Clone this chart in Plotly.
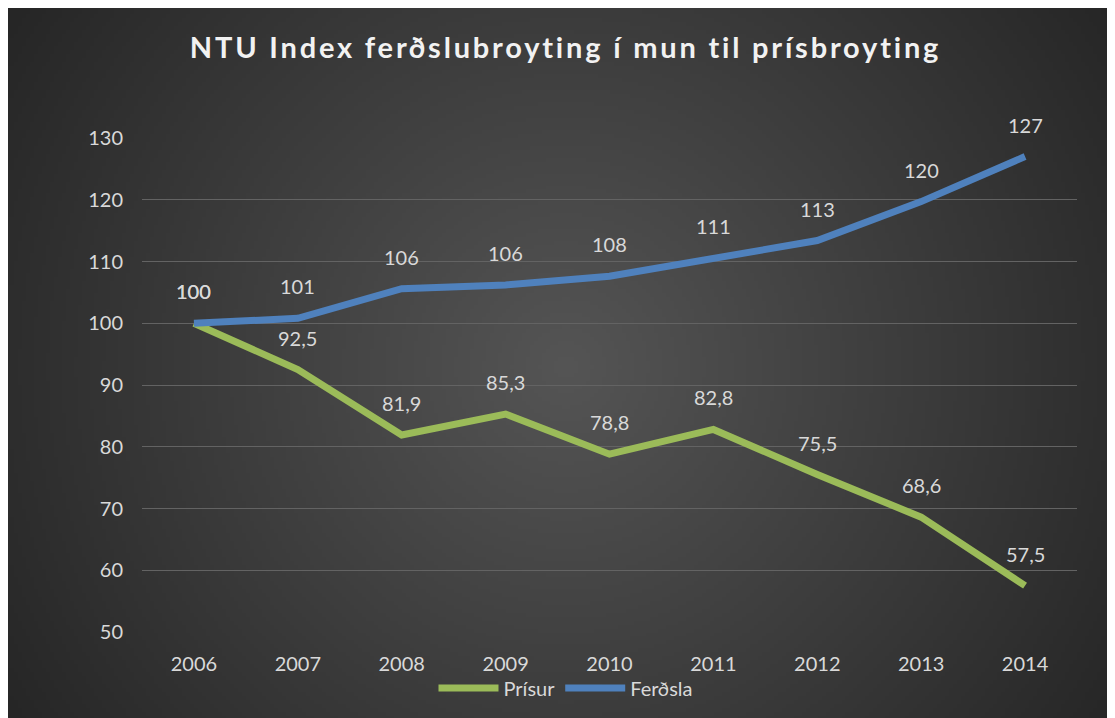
import zlib, struct, base64
import numpy as np
import plotly.graph_objects as go

years = ["2006", "2007", "2008", "2009", "2010", "2011", "2012", "2013", "2014"]
prisur = [100, 92.5, 81.9, 85.3, 78.8, 82.8, 75.5, 68.6, 57.5]
ferdsla = [100, 100.8, 105.6, 106.2, 107.6, 110.6, 113.4, 119.7, 127.0]
y_ticks = [50, 60, 70, 80, 90, 100, 110, 120, 130]

GREEN = "#9BBB59"
BLUE = "#4F81BD"
TXT = "#D9D9D9"
FONT = "Lato"

W, H = 1115, 718
ML, MR, MT, MB = 134, 46, 130, 94
PW, PH = W - ML - MR, H - MT - MB

# radial gradient background (Excel style) as a small PNG
def make_png(w, h):
    yy, xx = np.mgrid[0:h, 0:w].astype(float)
    cx, cy = (w - 1) / 2, (h - 1) / 2
    sx = W / w
    sy = H / h
    r = np.sqrt(((xx - cx) * sx) ** 2 + ((yy - cy) * sy) ** 2)
    r = r / r.max()
    c = (85 - r * 47).clip(0, 255).astype(np.uint8)
    raw = b"".join(b"\x00" + bytes(np.repeat(c[i], 3)) for i in range(h))
    def chunk(t, d):
        return struct.pack(">I", len(d)) + t + d + struct.pack(">I", zlib.crc32(t + d) & 0xffffffff)
    png = b"\x89PNG\r\n\x1a\n" + chunk(b"IHDR", struct.pack(">IIBBBBB", w, h, 8, 2, 0, 0, 0)) \
        + chunk(b"IDAT", zlib.compress(raw, 9)) + chunk(b"IEND", b"")
    return "data:image/png;base64," + base64.b64encode(png).decode()

bg = make_png(279, 180)
x0 = -ML / PW
x1 = (W - ML) / PW
y0 = 1 + MT / PH
y1 = -MB / PH

def fmt(v):
    return f"{v:g}".replace(".", ",")

fig = go.Figure()
fig.add_trace(go.Scatter(x=years, y=prisur, name="Prísur", mode="lines",
                         line=dict(color=GREEN, width=7)))
fig.add_trace(go.Scatter(x=years, y=ferdsla, name="Ferðsla", mode="lines",
                         line=dict(color=BLUE, width=7)))

annotations = []
for i, yv in enumerate(prisur):
    annotations.append(dict(x=i, y=yv, xref="x", yref="y", text=fmt(yv),
                            showarrow=False, yshift=32,
                            font=dict(family=FONT, size=20, color=TXT)))
for i, yv in enumerate(ferdsla):
    annotations.append(dict(x=i, y=yv, xref="x", yref="y", text=f"{yv:.0f}",
                            showarrow=False, yshift=32,
                            font=dict(family=FONT, size=20, color=TXT)))

title_text = ('<span style="letter-spacing:2.8px">'
              'NTU Index ferðslubroyting í mun til prísbroyting</span>')

fig.update_layout(
    width=W, height=H,
    margin=dict(l=ML, r=MR, t=MT, b=MB, autoexpand=False),
    paper_bgcolor="#2e2e2e",
    plot_bgcolor="rgba(0,0,0,0)",
    separators=",.",
    images=[dict(source=bg, xref="paper", yref="paper", x=x0, y=y0,
                 sizex=x1 - x0, sizey=y0 - y1, sizing="stretch",
                 xanchor="left", yanchor="top", layer="below")],
    title=dict(text=title_text,
               x=0.5, xref="container", xanchor="center", y=1 - 40 / H, yanchor="middle",
               font=dict(family=FONT, size=29, color="#F2F2F2", weight="bold")),
    xaxis=dict(type="category", range=[-0.5, 8.5], showgrid=False, zeroline=False,
               showline=False, ticks="", ticklabelstandoff=18,
               tickfont=dict(family=FONT, size=20, color=TXT)),
    yaxis=dict(range=[50, 130], tickvals=y_ticks, showgrid=True, gridcolor="#636363",
               gridwidth=1.2, zeroline=False, showline=False, ticks="",
               ticklabelstandoff=18,
               tickfont=dict(family=FONT, size=20, color=TXT)),
    legend=dict(orientation="h", xref="container", x=0.5, xanchor="center",
                y=(MT + PH - 680) / PH,
                yanchor="middle", font=dict(family=FONT, size=20, color=TXT),
                bgcolor="rgba(0,0,0,0)", itemwidth=60, tracegroupgap=0),
    annotations=annotations,
    showlegend=True,
)

fig.write_html("out.html")
